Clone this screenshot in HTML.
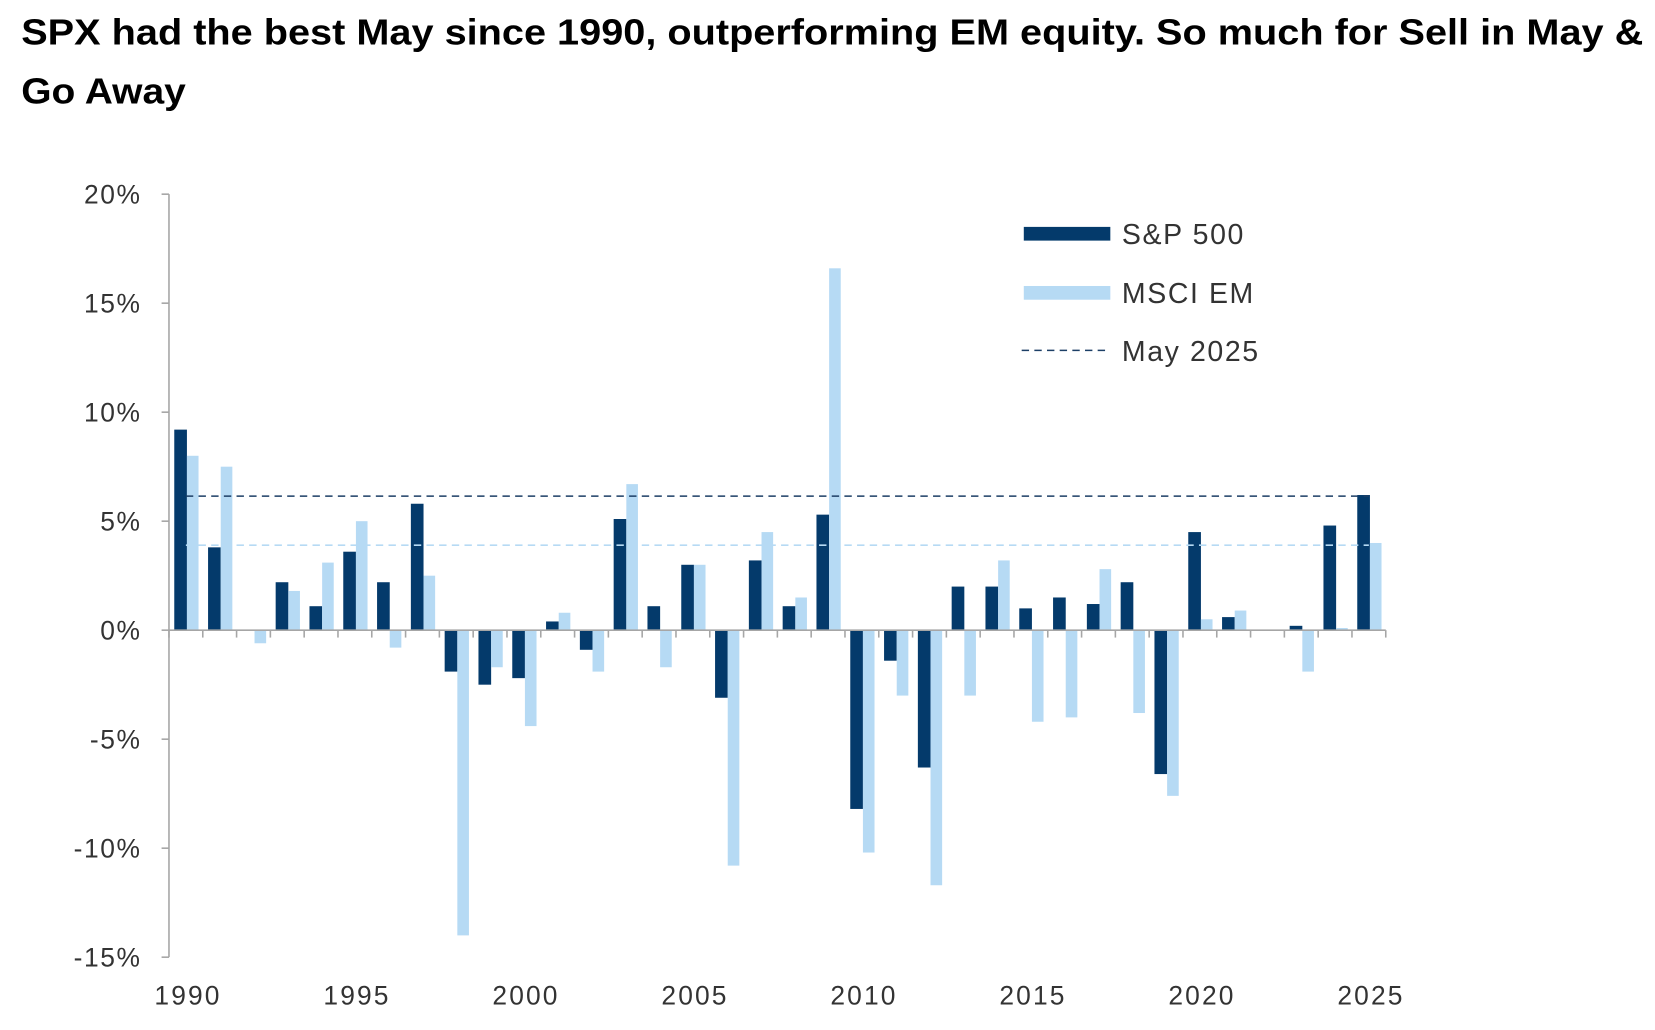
<!DOCTYPE html>
<html><head><meta charset="utf-8"><style>
html,body{margin:0;padding:0;background:#fff;}
svg{display:block;font-family:"Liberation Sans",Arial,sans-serif;}
</style></head><body>
<svg id="chart" width="1655" height="1030" viewBox="0 0 1568 976" xmlns="http://www.w3.org/2000/svg">
<text x="20" y="42" font-size="34" font-weight="bold" fill="#000" textLength="1537" lengthAdjust="spacingAndGlyphs">SPX had the best May since 1990, outperforming EM equity. So much for Sell in May &amp;</text>
<text x="20" y="98" font-size="34" font-weight="bold" fill="#000" textLength="156" lengthAdjust="spacingAndGlyphs">Go Away</text>
<g id="plot"></g>
</svg>
<script>
const years = [1990,1991,1992,1993,1994,1995,1996,1997,1998,1999,2000,2001,2002,2003,2004,2005,2006,2007,2008,2009,2010,2011,2012,2013,2014,2015,2016,2017,2018,2019,2020,2021,2022,2023,2024,2025];
const spx = [9.2,3.8,0,2.2,1.1,3.6,2.2,5.8,-1.9,-2.5,-2.2,0.4,-0.9,5.1,1.1,3.0,-3.1,3.2,1.1,5.3,-8.2,-1.4,-6.3,2.0,2.0,1.0,1.5,1.2,2.2,-6.6,4.5,0.6,0,0.2,4.8,6.2];
const em = [8.0,7.5,-0.6,1.8,3.1,5.0,-0.8,2.5,-14.0,-1.7,-4.4,0.8,-1.9,6.7,-1.7,3.0,-10.8,4.5,1.5,16.6,-10.2,-3.0,-11.7,-3.0,3.2,-4.2,-4.0,2.8,-3.8,-7.6,0.5,0.9,0,-1.9,0.1,4.0];
const yTicks = [20,15,10,5,0,-5,-10,-15];
const xLabels = [1990,1995,2000,2005,2010,2015,2020,2025];
const may2025Spx = 6.15;
const may2025Em = 3.9;

const NS="http://www.w3.org/2000/svg";
const g=document.getElementById('plot');
const x0=160, x1=1313, yTop=184, yBot=907, vMax=20, vMin=-15;
const band=(x1-x0)/years.length;
function y(v){return yTop+(vMax-v)/(vMax-vMin)*(yBot-yTop);}
function xc(i){return x0+band*(i+0.5);}
function mk(tag,attrs){const e=document.createElementNS(NS,tag);for(const k in attrs)e.setAttribute(k,attrs[k]);g.appendChild(e);return e;}
const DARK="#043a6b", LIGHT="#b6daf4";

let ax=mk('line',{x1:x0,y1:yTop,x2:x0,y2:yBot,stroke:'#a6a6a6','stroke-width':1.5});


yTicks.forEach(t=>{
  let tk=mk('line',{x1:x0-7,y1:y(t),x2:x0,y2:y(t),stroke:'#a6a6a6','stroke-width':1.5});
  
  
  let tx=mk('text',{x:x0-26,y:y(t)+9,'text-anchor':'end','font-size':25,'letter-spacing':1.5,fill:'#333'});
  tx.textContent=t+'%';
  
  
});

years.forEach((yr,i)=>{
  const c=xc(i);
  const bs=mk('rect',{x:c-11,y:Math.min(y(spx[i]),y(0)),width:12,height:Math.abs(y(spx[i])-y(0)),fill:DARK});
  
  
  const be=mk('rect',{x:c+1,y:Math.min(y(em[i]),y(0)),width:11,height:Math.abs(y(em[i])-y(0)),fill:LIGHT});
  
  
});

let xa=mk('line',{x1:x0,y1:y(0),x2:x1,y2:y(0),stroke:'#a6a6a6','stroke-width':1.5});


for(let i=0;i<=years.length;i++){
  let tk=mk('line',{x1:x0+band*i,y1:y(0),x2:x0+band*i,y2:y(0)+7,stroke:'#a6a6a6','stroke-width':1.5});
  
  
}
xLabels.forEach(l=>{
  const i=years.indexOf(l);
  let tx=mk('text',{x:xc(i)+2,y:952,'text-anchor':'middle','font-size':25,'letter-spacing':2,fill:'#333'});
  tx.textContent=l;
  
  
});

let r1=mk('line',{x1:xc(0),y1:y(may2025Spx),x2:xc(years.length-1),y2:y(may2025Spx),stroke:'#1c3f66','stroke-width':1.5,'stroke-dasharray':'7 5'});


let r2=mk('line',{x1:xc(0),y1:y(may2025Em),x2:xc(years.length-1),y2:y(may2025Em),stroke:LIGHT,'stroke-width':1.5,'stroke-dasharray':'7 5'});



let l1=mk('rect',{x:970,y:215,width:82,height:13,fill:DARK});


let t1=mk('text',{x:1063,y:231,'font-size':27,'letter-spacing':1.5,fill:'#333'});t1.textContent='S&P 500';


let l2=mk('rect',{x:970,y:271,width:82,height:13,fill:LIGHT});


let t2=mk('text',{x:1063,y:287,'font-size':27,'letter-spacing':1.5,fill:'#333'});t2.textContent='MSCI EM';


let l3=mk('line',{x1:968,y1:332,x2:1048,y2:332,stroke:'#1c3f66','stroke-width':1.5,'stroke-dasharray':'7 5'});


let t3=mk('text',{x:1063,y:342,'font-size':27,'letter-spacing':1.5,fill:'#333'});t3.textContent='May 2025';


</script>
</body></html>
